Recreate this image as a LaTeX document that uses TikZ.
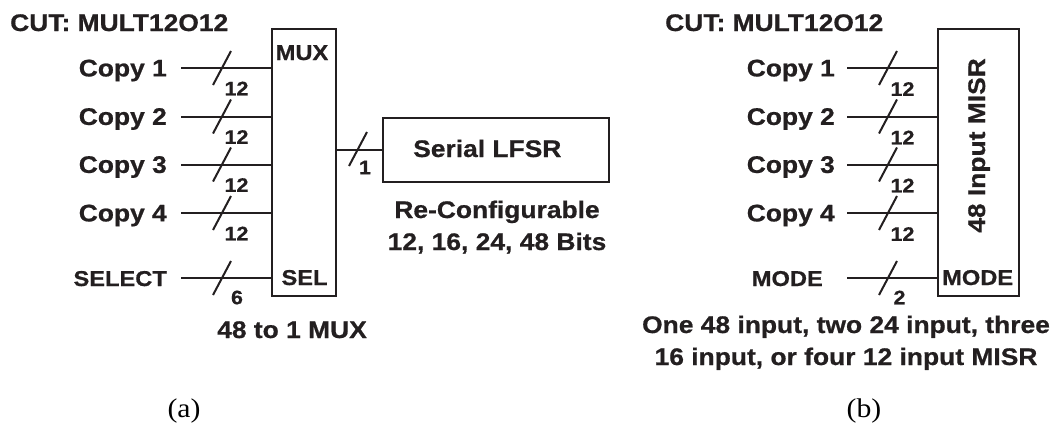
\documentclass[tikz,border=0pt]{standalone}
\usepackage{fontspec}
\newfontfamily\lab{Liberation Sans}[FakeStretch=1.1, BoldFeatures={FakeBold=0.7}]
\newfontfamily\ser{Liberation Serif}[FakeStretch=1.1]
\usetikzlibrary{calc}
\definecolor{ink}{HTML}{231F20}
\tikzset{
  wire/.style={line width=2pt, draw=ink},
  box/.style={draw=ink, line width=2.5pt, inner sep=0pt},
  lbl/.style={font=\lab\bfseries\fontsize{24}{32}\selectfont, text=ink, inner sep=0pt},
  sm/.style={font=\lab\bfseries\fontsize{21.5}{26}\selectfont, text=ink, inner sep=0pt},
  num/.style={font=\lab\bfseries\fontsize{19.5}{22}\selectfont, text=ink, inner sep=0pt},
  subcap/.style={font=\ser\fontsize{27}{30}\selectfont, text=black, inner sep=0pt},
  pics/bus/.style n args={2}{code={\draw[wire] (-9,17) -- (9,-17); \node[num] (-n) at #2 {#1};}}
}
\begin{document}
\begin{tikzpicture}[x=1pt,y=-1pt]
\useasboundingbox (0,0) rectangle (1058,426);
% ---------------- (a) ----------------
\node[lbl, anchor=base west] (cuta) at (10,31) {CUT: MULT12O12};
\node[box, minimum width=64pt, minimum height=267pt] (mux) at (304,162.5) {};
\node[sm, anchor=base] (muxl) at (302,60) {MUX};
\node[sm, anchor=base] (sell) at (304.5,285) {SEL};
\foreach \i/\y in {1/68,2/116.5,3/164.5,4/213}{
  \coordinate (a\i w) at (181,\y);
  \node[lbl, anchor=base east] (a\i) at ($(a\i w)+(-14,8.4)$) {Copy \i};
  \draw[wire] (a\i w) -- (a\i w -| mux.west);
  \pic (as\i) at (222,\y) {bus={12}{(14.5,20.5)}};
}
\coordinate (asw) at (181,278);
\node[sm, anchor=base east] (sel) at ($(asw)+(-14,8)$) {SELECT};
\draw[wire] (asw) -- (asw -| mux.west);
\pic (ass) at (222,278) {bus={6}{(15,19.5)}};
\node[lbl, anchor=base west] (muxcap) at (217,338) {48 to 1 MUX};
\node[box, minimum width=226pt, minimum height=64pt] (lfsr) at (496,150) {};
\node[lbl, anchor=base west] (lfsrl) at (413,157) {Serial LFSR};
\draw[wire] (mux.east |- lfsr.west) -- (lfsr.west);
\pic (aso) at (358,149) {bus={1}{(7,18.5)}};
\node[lbl, anchor=base] (rc1) at (497,218) {Re-Configurable};
\node[lbl, anchor=base] (rc2) at (497,250) {12, 16, 24, 48 Bits};
\node[subcap] (capa) at (184,411) {(a)};
% ---------------- (b) ----------------
\node[lbl, anchor=base west] (cutb) at (665,31) {CUT: MULT12O12};
\node[box, minimum width=81pt, minimum height=267pt] (misr) at (978.5,162.5) {};
\node[lbl, anchor=base, rotate=90] (misrl) at (985,145.5) {48 Input MISR};
\node[sm, anchor=base west] (model) at (942,285) {MODE};
\foreach \i/\y in {1/68,2/116.5,3/164.5,4/213}{
  \coordinate (b\i w) at (847,\y);
  \node[lbl, anchor=base east] (b\i) at ($(b\i w)+(-12,8.4)$) {Copy \i};
  \draw[wire] (b\i w) -- (b\i w -| misr.west);
  \pic (bs\i) at (888,\y) {bus={12}{(14.5,21)}};
}
\coordinate (bmw) at (847,278);
\node[sm, anchor=base east] (mode) at ($(bmw)+(-24,8)$) {MODE};
\draw[wire] (bmw) -- (bmw -| misr.west);
\pic (bsm) at (888,278) {bus={2}{(11.5,19.5)}};
\node[lbl, anchor=base] (mc1) at (846,333) {One 48 input, two 24 input, three};
\node[lbl, anchor=base] (mc2) at (846,365) {16 input, or four 12 input MISR};
\node[subcap] (capb) at (864,411) {(b)};
\end{tikzpicture}
\end{document}
